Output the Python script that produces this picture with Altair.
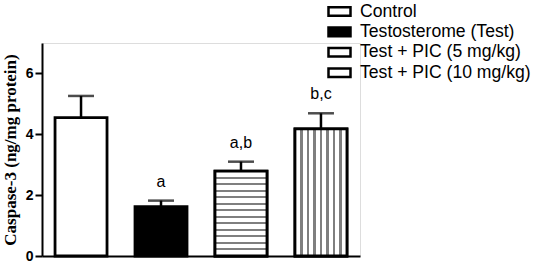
import altair as alt
import pandas as pd

groups = ["Control", "Testosterome (Test)", "Test + PIC (5 mg/kg)", "Test + PIC (10 mg/kg)"]
means = [4.55, 1.62, 2.79, 4.18]
uppers = [5.26, 1.82, 3.10, 4.69]
sig = ["", "a", "a,b", "b,c"]

df = pd.DataFrame({"group": groups, "mean": means, "upper": uppers, "sig": sig})


def stripes(n, gray="#7f7f7f", half=0.018):
    stops = [alt.GradientStop(offset=0, color="white")]
    for k in range(1, n):
        c = k / n
        stops += [
            alt.GradientStop(offset=c - half, color="white"),
            alt.GradientStop(offset=c - half, color=gray),
            alt.GradientStop(offset=c + half, color=gray),
            alt.GradientStop(offset=c + half, color="white"),
        ]
    stops.append(alt.GradientStop(offset=1, color="white"))
    return stops


xs = alt.X("group:N", sort=groups,
           scale=alt.Scale(paddingInner=0.35, paddingOuter=0.163),
           axis=alt.Axis(title=None, labels=False, ticks=False, domainColor="black", domainWidth=2))
ys = alt.Y("mean:Q", scale=alt.Scale(domain=[0, 7], nice=False),
           axis=alt.Axis(values=[0, 2, 4, 6], title="Caspase-3 (ng/mg protein)", grid=False,
                         domainColor="black", domainWidth=2, tickColor="black", tickWidth=2, tickSize=7,
                         labelFont="Liberation Sans", labelFontWeight="bold", labelFontSize=14,
                         labelColor="black", labelPadding=2,
                         titleFont="Liberation Serif", titleFontWeight="bold", titleFontSize=17,
                         titleColor="black", titlePadding=6))

base = alt.Chart(df)

bars = base.mark_bar(stroke="black", strokeWidth=2.8).encode(
    x=xs, y=ys,
    fill=alt.Fill("group:N", sort=groups,
                  scale=alt.Scale(domain=groups, range=["white", "black", "white", "white"]),
                  legend=alt.Legend(title=None, orient="none", legendX=288, legendY=-41,
                                    columns=1,
                                    symbolType="M-1.4,-0.55L1.4,-0.55L1.4,0.55L-1.4,0.55Z", symbolSize=247,
                                    symbolStrokeColor="black", symbolStrokeWidth=2.5,
                                    labelFont="Liberation Sans", labelFontSize=17.6, labelColor="black",
                                    labelOffset=11, rowPadding=1.4, padding=0, labelLimit=300)),
)

h_bar = base.transform_filter(alt.datum.group == groups[2]).mark_bar(
    stroke="black", strokeWidth=2.8,
    fill=alt.Gradient(gradient="linear", x1=0, x2=0, y1=0, y2=1, stops=stripes(13, half=0.012)),
).encode(x=alt.X("group:N", sort=groups), y="mean:Q")

v_bar = base.transform_filter(alt.datum.group == groups[3]).mark_bar(
    stroke="black", strokeWidth=2.8,
    fill=alt.Gradient(gradient="linear", x1=0, x2=1, y1=0, y2=0, stops=stripes(8, half=0.02)),
).encode(x=alt.X("group:N", sort=groups), y="mean:Q")

err = base.mark_rule(color="black", strokeWidth=2.5).encode(
    x=alt.X("group:N", sort=groups), y="mean:Q", y2="upper:Q")
cap = base.mark_tick(color="black", thickness=2.5, size=26, orient="horizontal").encode(
    x=alt.X("group:N", sort=groups), y="upper:Q")
lab = base.mark_text(font="Liberation Sans", fontSize=16, color="black", dy=-14,
                     baseline="alphabetic").encode(
    x=alt.X("group:N", sort=groups), y="upper:Q", text="sig:N")

chart = alt.layer(bars, h_bar, v_bar, err, cap, lab).properties(
    width=318, height=213,
    autosize=alt.AutoSizeParams(type="none"),
    padding={"left": 42, "top": 43, "right": 173, "bottom": 8},
).configure_view(stroke=None).configure(background="white")

chart.save("out.html", embed_options={"renderer": "svg", "actions": False})
